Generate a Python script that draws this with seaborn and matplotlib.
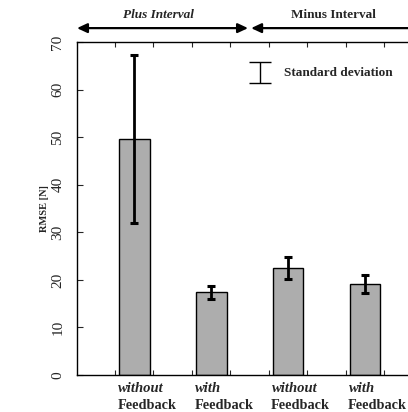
import numpy as np
import pandas as pd
import matplotlib
matplotlib.use("Agg")
import matplotlib.pyplot as plt
import matplotlib.transforms as mtransforms
import seaborn as sns

# --- data ---
conditions = ["plus_without", "plus_with", "minus_without", "minus_with"]
rmse_mean = [49.6, 17.4, 22.5, 19.1]
rmse_sd = [17.7, 1.35, 2.4, 1.85]
label_top = ["without", "with", "without", "with"]
label_bottom = ["Feedback", "Feedback", "Feedback", "Feedback"]
y_ticks = [0, 10, 20, 30, 40, 50, 60, 70]

BAR_GREY = "#adadad"

sns.set_style("ticks")
plt.rcParams['font.family'] = ['Liberation Serif', 'DejaVu Serif']

df = pd.DataFrame({"condition": conditions, "rmse": rmse_mean})

fig = plt.figure(figsize=(4.08, 4.12), dpi=100)
ax = fig.add_axes([0.1887, 0.0898, 0.846, 0.808])

sns.barplot(data=df, x="condition", y="rmse", order=conditions, color=BAR_GREY,
            width=0.4, edgecolor="black", linewidth=1.0, errorbar=None,
            saturation=1, ax=ax)

pos = np.arange(len(conditions))
ax.errorbar(pos, rmse_mean, yerr=rmse_sd, fmt="none", ecolor="black",
            elinewidth=2.0, capsize=3, capthick=2.2, zorder=5)

ax.set_xlim(-0.745, len(conditions) - 1 + 0.745)
ax.set_ylim(0, 70)
ax.set_yticks(y_ticks)
ax.set_yticklabels([str(v) for v in y_ticks], rotation=90, va="center", fontsize=11)
ax.set_xticks(np.sort(np.concatenate([pos - 0.25, pos + 0.25])))
ax.set_xticklabels([])
ax.set_xlabel("")
ax.set_ylabel("RMSE [N]", fontsize=7.5, fontweight="bold", labelpad=2)

ax.tick_params(axis="y", direction="in", length=4, width=0.8, pad=9, left=True, right=False)
ax.tick_params(axis="x", direction="in", length=3.5, width=0.8, top=True, bottom=True)
for s in ax.spines.values():
    s.set_linewidth(1.0)
    s.set_color("black")

# two-line category labels, left aligned with the bar edges
trans = mtransforms.blended_transform_factory(ax.transData, ax.transAxes)
for i, (t1, t2) in enumerate(zip(label_top, label_bottom)):
    ax.text(i - 0.21, -0.051, t1, transform=trans, ha="left", va="baseline",
            fontsize=10.5, fontweight="bold", style="italic")
    ax.text(i - 0.22, -0.102, t2, transform=trans, ha="left", va="baseline",
            fontsize=10.3, fontweight="bold")

# interval arrows above the plot
split = 1.5
left_edge, right_edge = ax.get_xlim()
arrow = dict(arrowstyle="<|-|>,head_length=0.6,head_width=0.28", color="black",
             lw=1.6, shrinkA=0, shrinkB=0)
ax.annotate("", xy=(left_edge, 1.042), xytext=(split - 0.02, 1.042),
            xycoords=trans, textcoords=trans, arrowprops=arrow, annotation_clip=False)
ax.annotate("", xy=(split + 0.02, 1.042), xytext=(right_edge, 1.042),
            xycoords=trans, textcoords=trans, arrowprops=arrow, annotation_clip=False)
ax.text(0.31, 1.081, "Plus Interval", transform=trans, ha="center", va="center",
        fontsize=9.5, fontweight="bold", style="italic")
ax.text(2.59, 1.081, "Minus Interval", transform=trans, ha="center", va="center",
        fontsize=9.5, fontweight="bold")

# legend symbol for the error bars
ax.errorbar([1.64], [63.6], yerr=[2.2], fmt="none", ecolor="black",
            elinewidth=1.0, capsize=8, capthick=1.0)
ax.text(1.95, 63.5, "Standard deviation", ha="left", va="center",
        fontsize=9.5, fontweight="bold")

fig.savefig("out.png", dpi=100)
